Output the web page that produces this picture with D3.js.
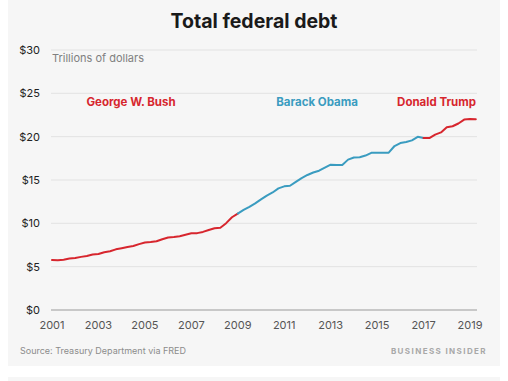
<!DOCTYPE html>
<html><head><meta charset="utf-8">
<script src="https://cdn.jsdelivr.net/npm/d3@7"></script>
<style>
html,body{margin:0;padding:0;background:#fff;}
svg{display:block;}
text{font-family:Inter,"Open Sans",sans-serif;}
</style></head>
<body>
<svg id="chart" width="508" height="381"></svg>
<script>
// Quarterly total federal debt, trillions of dollars (2001 Q1 – 2019 Q2)
const quarters = d3.range(0, 74).map(i => 2001 + i * 0.25);
const debt = [
  5.77, 5.73, 5.81, 5.94,
  6.01, 6.13, 6.23, 6.41,
  6.46, 6.67, 6.78, 7.00,
  7.13, 7.27, 7.38, 7.60,
  7.78, 7.84, 7.93, 8.17,
  8.37, 8.42, 8.51, 8.68,
  8.85, 8.87, 9.01, 9.23,
  9.44, 9.49, 10.02, 10.70,
  11.13, 11.55, 11.91, 12.31,
  12.77, 13.20, 13.56, 14.03,
  14.27, 14.34, 14.79, 15.22,
  15.58, 15.86, 16.07, 16.43,
  16.77, 16.74, 16.74, 17.35,
  17.60, 17.63, 17.82, 18.14,
  18.15, 18.15, 18.15, 18.92,
  19.26, 19.38, 19.57, 19.98,
  19.85, 19.84, 20.24, 20.49,
  21.09, 21.20, 21.52, 21.97,
  22.03, 22.02
];
const presidents = ["George W. Bush", "Barack Obama", "Donald Trump"];
const termStart = [2001, 2009, 2017];
const termEnd = [2009, 2017, 2019.25];
const presColors = ["#d7262e", "#3a9cc0", "#d7262e"];
const yTicks = [0, 5, 10, 15, 20, 25, 30];
const xTicks = [2001, 2003, 2005, 2007, 2009, 2011, 2013, 2015, 2017, 2019];

const svg = d3.select("#chart");
// panels
svg.append("rect").attr("x", 8).attr("y", 0).attr("width", 492).attr("height", 366).attr("fill", "#f6f6f6");
svg.append("rect").attr("x", 8).attr("y", 377).attr("width", 492).attr("height", 10).attr("fill", "#f6f6f6");

const x = d3.scaleLinear().domain([2001, 2019]).range([52, 470]);
const y = d3.scaleLinear().domain([0, 30]).range([310, 50]);
const gx0 = 51, gx1 = 477;

// title
svg.append("text").attr("x", 254).attr("y", 28).attr("text-anchor", "middle")
  .attr("font-size", 19.5).attr("font-weight", 700).attr("fill", "#1a1a1a")
  .text("Total federal debt");

// gridlines
const g = svg.append("g");
g.selectAll("line.grid").data(yTicks).join("line")
  .attr("x1", gx0).attr("x2", gx1)
  .attr("y1", d => y(d)).attr("y2", d => y(d))
  .attr("stroke", d => d === 0 ? "#9a9a9a" : "#e2e2e2")
  .attr("stroke-width", 1);

// y axis labels
g.selectAll("text.ylab").data(yTicks).join("text")
  .attr("x", 40).attr("y", d => y(d)).attr("dy", "0.35em")
  .attr("text-anchor", "end").attr("font-size", 11).attr("fill", "#222")
  .text(d => "$" + d);

// x axis labels
g.selectAll("text.xlab").data(xTicks).join("text")
  .attr("x", d => x(d)).attr("y", 328.5)
  .attr("text-anchor", "middle").attr("font-size", 11).attr("fill", "#555")
  .text(d => d);

svg.append("text").attr("x", 52).attr("y", 62).attr("font-size", 11).attr("fill", "#808080")
  .text("Trillions of dollars");

// lines by president
const pts = quarters.map((q, i) => ({q, v: debt[i]}));
const line = d3.line().x(d => x(d.q)).y(d => y(d.v));
presidents.forEach((p, k) => {
  const seg = pts.filter(d => d.q >= termStart[k] && d.q <= termEnd[k]);
  svg.append("path").datum(seg).attr("d", line)
    .attr("fill", "none").attr("stroke", presColors[k]).attr("stroke-width", 2)
    .attr("stroke-linejoin", "round").attr("stroke-linecap", "round");
});

// president labels
const labX = [131, 317, 476];
const labAnchor = ["middle", "middle", "end"];
presidents.forEach((p, k) => {
  svg.append("text").attr("x", labX[k]).attr("y", 106)
    .attr("text-anchor", labAnchor[k]).attr("font-size", 11.5).attr("font-weight", 700)
    .attr("fill", presColors[k]).text(p);
});

// footer
svg.append("text").attr("x", 20).attr("y", 354).attr("font-size", 9).attr("fill", "#8c8c8c")
  .text("Source: Treasury Department via FRED");
svg.append("text").attr("x", 487).attr("y", 354).attr("text-anchor", "end")
  .attr("font-size", 8).attr("font-weight", 700).attr("letter-spacing", 1.4).attr("fill", "#a8a8a8")
  .text("BUSINESS INSIDER");
</script>
</body></html>
